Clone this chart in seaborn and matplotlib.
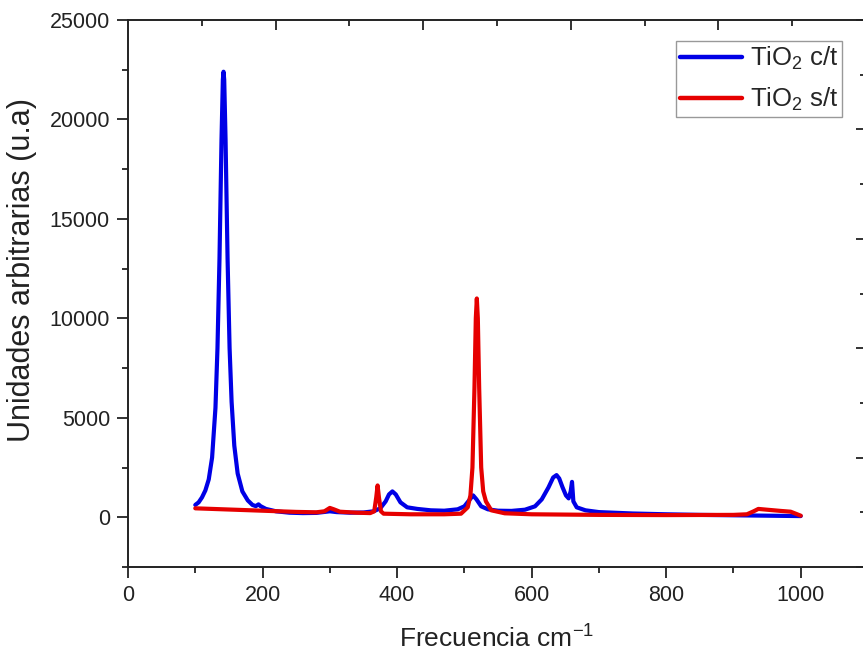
import seaborn as sns
import pandas as pd
import matplotlib
matplotlib.use("Agg")
import matplotlib.pyplot as plt
from matplotlib.ticker import MultipleLocator

# Raman spectra
freq_ct = [100, 105, 110, 115, 120, 125, 130, 133, 136, 139, 141, 142, 143, 145, 148,
           151, 154, 158, 163, 170, 178, 185, 190, 194, 197, 205, 220, 240, 260, 280,
           295, 300, 310, 330, 350, 365, 375, 383, 388, 393, 398, 405, 415, 430, 450,
           470, 490, 500, 507, 513, 518, 525, 535, 550, 570, 590, 605, 615, 625, 632,
           637, 641, 646, 651, 655, 658, 660, 662, 667, 680, 700, 750, 800, 850, 900,
           950, 1000]
int_ct = [620, 750, 1000, 1350, 1900, 3000, 5500, 8500, 13000, 19000, 22000, 22400, 22000, 19000, 13000,
          8500, 5800, 3600, 2200, 1300, 850, 620, 560, 650, 560, 420, 300, 230, 210, 220,
          280, 300, 260, 230, 240, 300, 450, 800, 1150, 1300, 1150, 750, 500, 420, 350,
          330, 400, 550, 850, 1100, 900, 550, 400, 330, 320, 380, 550, 900, 1500, 2000,
          2120, 1950, 1500, 1100, 950, 1300, 1780, 800, 500, 350, 260, 190, 150, 120, 100,
          80, 60]

freq_st = [100, 150, 200, 250, 280, 292, 300, 306, 315, 340, 360, 366, 369, 371, 373,
           376, 380, 420, 470, 495, 505, 509, 512, 515, 517, 518.5, 520, 522, 525, 528,
           532, 540, 560, 600, 700, 800, 900, 920, 930, 937, 950, 970, 985, 1000]
int_st = [450, 390, 330, 270, 250, 300, 470, 400, 280, 230, 210, 300, 1000, 1600, 1000,
          300, 180, 150, 150, 180, 500, 1100, 2500, 6500, 10000, 11000, 10000, 6500, 2500, 1300,
          800, 350, 200, 150, 120, 110, 120, 150, 300, 420, 380, 320, 280, 80]

label_ct = "TiO$_2$ c/t"
label_st = "TiO$_2$ s/t"

df_ct = pd.DataFrame({"freq": freq_ct, "intensity": int_ct})
df_st = pd.DataFrame({"freq": freq_st, "intensity": int_st})

sns.set_style("ticks")
plt.rcParams["font.family"] = ["Liberation Sans", "DejaVu Sans"]
plt.rcParams["mathtext.fontset"] = "custom"
plt.rcParams["mathtext.rm"] = "Liberation Sans"
plt.rcParams["mathtext.it"] = "Liberation Sans:italic"

ink = "#222222"
fig = plt.figure(figsize=(8.63, 6.58), dpi=100)
# the right spine sits just past the picture's edge
rect = [128 / 863, 1 - 567 / 658, 738 / 863, (567 - 20) / 658]
ax = fig.add_axes(rect)

sns.lineplot(data=df_ct, x="freq", y="intensity", color="#0000e6", lw=3,
             label=label_ct, ax=ax)
sns.lineplot(data=df_st, x="freq", y="intensity", color="#e60000", lw=3,
             label=label_st, ax=ax)

xmax = 1097
ylo, yhi = -2500, 25000
ax.set_xlim(0, xmax)
ax.set_ylim(ylo, yhi)
ax.xaxis.set_major_locator(MultipleLocator(200))
ax.xaxis.set_minor_locator(MultipleLocator(100))
ax.yaxis.set_major_locator(MultipleLocator(5000))
ax.yaxis.set_minor_locator(MultipleLocator(2500))

ax.tick_params(which="both", direction="out", top=False, right=False,
               labelsize=15.5, colors=ink, width=1.3, pad=5)
ax.tick_params(which="major", length=8)
ax.tick_params(which="minor", length=4.5)

for s in ax.spines.values():
    s.set_linewidth(1.4)
    s.set_color(ink)
ax.spines["right"].set_visible(False)

# right edge: inward ticks splitting the edge into ten parts
frame = fig.add_axes(rect, frameon=False, zorder=3)
frame.patch.set_visible(False)
frame.set_xlim(0, 1)
frame.set_ylim(0, 1)
frame.set_xticks([])
frame.set_yticks([0.0, 0.2, 0.4, 0.6, 0.8, 1.0])
frame.set_yticks([0.1, 0.3, 0.5, 0.7, 0.9], minor=True)
frame.tick_params(axis="y", which="major", direction="in", right=True, left=False,
                  labelright=False, labelleft=False, length=7.5, width=1.3, color=ink)
frame.tick_params(axis="y", which="minor", direction="in", right=True, left=False,
                  labelright=False, labelleft=False, length=4.5, width=1.3, color=ink)

# top edge: same ten-part inward ticks, drawn as short segments hanging from the spine
top_major = [0.2, 0.4, 0.6, 0.8]
top_minor = [0.1, 0.3, 0.5, 0.7, 0.9]
frame.vlines(top_major, 1 - 10 / 547, 1, transform=frame.transAxes, colors=ink,
             lw=1.3, clip_on=False)
frame.vlines(top_minor, 1 - 6 / 547, 1, transform=frame.transAxes, colors=ink,
             lw=1.3, clip_on=False)

ax.set_xlabel("Frecuencia cm$^{-1}$", fontsize=19, color=ink, labelpad=14)
ax.set_ylabel("Unidades arbitrarias (u.a)", fontsize=22, color=ink)
ax.yaxis.set_label_coords((37 - 128) / 738, 1 - (270 - 20) / 547)

leg = ax.legend(loc="upper right", bbox_to_anchor=((842 - 128) / 738, 1 - 21 / 547),
                borderaxespad=0, fontsize=18.5, frameon=True, fancybox=False,
                edgecolor="#999999", framealpha=1, handlelength=2.4,
                handletextpad=0.3, borderpad=0.15, labelspacing=0.55)
leg.get_frame().set_linewidth(1.0)
for line in leg.get_lines():
    line.set_linewidth(3.2)

plt.savefig("out.png", dpi=100)
